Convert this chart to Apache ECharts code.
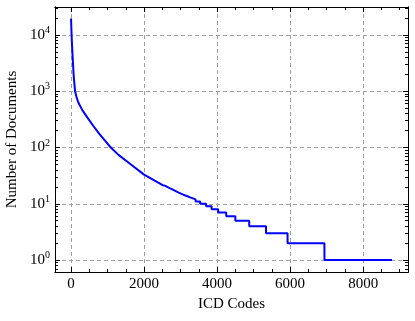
<!DOCTYPE html>
<html lang="en">
<head>
  <meta charset="UTF-8">
  <script src="https://cdn.jsdelivr.net/npm/echarts/dist/echarts.min.js"></script>
  <style>
    html, body { margin: 0; padding: 0; background: #fff; }
    #chart { width: 415px; height: 321px; }
  </style>
</head>
<body>
  <div id="chart"></div>
  <script>
    // smooth head of the rank/frequency curve
    const smoothRanks = [0, 10, 25, 45, 70, 110, 150, 200, 318, 450, 592, 775, 930, 1090, 1300, 1597, 2000, 2510];
    const smoothCounts = [19500, 12600, 7080, 3980, 2000, 1000, 790, 630, 452, 339, 251, 174, 132, 100, 74, 52.5, 33, 21.4];
    // integer plateaus in the tail: count level and the last rank at that level
    const stepCounts = [21, 20, 19, 18, 17, 16, 15, 14, 13, 12, 11, 10, 9, 8, 7, 6, 5, 4, 3, 2, 1];
    const stepEnds = [2570, 2635, 2700, 2775, 2855, 2935, 3025, 3135, 3265, 3410, 3535, 3700, 3850, 4030, 4250, 4500, 4880, 5340, 5930, 6940, 8790];

    const xMajor = [0, 2000, 4000, 6000, 8000];
    const yMajor = [1, 10, 100, 1000, 10000];
    const xMin = -439, xMax = 9229;
    const yMin = 0.614, yMax = 31300;

    const points = smoothRanks.map((r, i) => [r, smoothCounts[i]]);
    let prev = smoothRanks[smoothRanks.length - 1];
    stepCounts.forEach((c, i) => {
      points.push([prev + 1, c]);
      points.push([stepEnds[i], c]);
      prev = stepEnds[i];
    });

    const xMinor = [];
    for (let v = 500; v <= xMax; v += 500) if (v % 2000 !== 0) xMinor.push(v);
    const yMinor = [];
    for (let e = -1; e <= 4; e++) {
      for (let k = 2; k <= 9; k++) {
        const v = k * Math.pow(10, e);
        if (v > yMin && v < yMax) yMinor.push(v);
      }
    }

    const font = 'Liberation Serif';

    const xAxisBase = (pos, ticks, len, extra) => Object.assign({
      type: 'value', position: pos, min: xMin, max: xMax,
      axisLine: { show: true, onZero: false, lineStyle: { color: '#000', width: 1 } },
      axisTick: { show: true, inside: true, length: len, customValues: ticks, lineStyle: { color: '#000' } },
      axisLabel: { show: false },
      splitLine: { show: false }
    }, extra || {});
    const yAxisBase = (pos, ticks, len, extra) => Object.assign({
      type: 'log', logBase: 10, position: pos, min: yMin, max: yMax,
      axisLine: { show: true, onZero: false, lineStyle: { color: '#000', width: 1 } },
      axisTick: { show: true, inside: true, length: len, customValues: ticks, lineStyle: { color: '#000' } },
      axisLabel: { show: false },
      splitLine: { show: false }
    }, extra || {});

    const dashed = { color: '#a0a0a0', width: 1, type: [4, 3] };

    const chart = echarts.init(document.getElementById('chart'));
    chart.setOption({
      animation: false,
      grid: { left: 55, right: 7, top: 7, bottom: 49, containLabel: false, outerBoundsMode: 'none' },
      xAxis: [
        xAxisBase('bottom', xMajor, 5, {
          name: 'ICD Codes', nameLocation: 'middle', nameGap: 25,
          nameTextStyle: { fontFamily: font, fontSize: 15, color: '#000' },
          axisLabel: {
            show: true, customValues: xMajor, margin: 5,
            fontFamily: font, fontSize: 15, color: '#000',
            formatter: v => String(v)
          },
          splitLine: { show: true, lineStyle: dashed }
        }),
        xAxisBase('bottom', xMinor, 3),
        xAxisBase('top', xMajor, 5),
        xAxisBase('top', xMinor, 3)
      ],
      yAxis: [
        yAxisBase('left', yMajor, 5, {
          name: 'Number of Documents', nameLocation: 'middle', nameGap: 34,
          nameTextStyle: { fontFamily: font, fontSize: 15, color: '#000' },
          axisLabel: {
            show: true, customValues: yMajor, margin: 5,
            fontFamily: font, fontSize: 15, color: '#000',
            formatter: v => '10{s|' + Math.round(Math.log10(v)) + '}',
            rich: { s: { fontFamily: font, fontSize: 10, padding: [0, 0, 9, 0] } }
          },
          splitLine: { show: true, lineStyle: dashed }
        }),
        yAxisBase('left', yMinor, 3),
        yAxisBase('right', yMajor, 5),
        yAxisBase('right', yMinor, 3)
      ],
      series: [{
        type: 'line',
        data: points,
        showSymbol: false,
        symbol: 'none',
        lineStyle: { color: '#0000ff', width: 2 },
        xAxisIndex: 0,
        yAxisIndex: 0
      }]
    });
  </script>
</body>
</html>
